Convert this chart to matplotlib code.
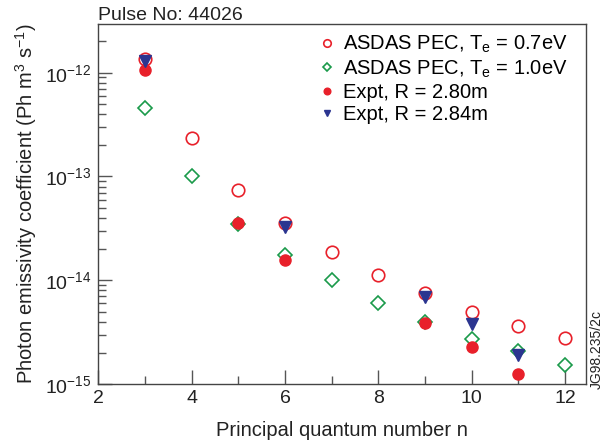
import numpy as np
import matplotlib
matplotlib.use("Agg")
import matplotlib.pyplot as plt
from matplotlib.ticker import FixedLocator, MultipleLocator, NullFormatter, LogFormatterMathtext

plt.rcParams['font.family'] = ['Liberation Sans', 'DejaVu Sans']

# ASDAS PEC model, Te = 0.7 eV and 1.0 eV
n_model = [3, 4, 5, 6, 7, 8, 9, 10, 11, 12]
pec_07 = [1.35e-12, 2.36e-13, 7.45e-14, 3.53e-14, 1.86e-14, 1.12e-14,
          7.5e-15, 5.0e-15, 3.66e-15, 2.78e-15]
pec_10 = [4.57e-13, 1.0e-13, 3.47e-14, 1.74e-14, 1.0e-14, 6.0e-15,
          4.0e-15, 2.73e-15, 2.1e-15, 1.54e-15]

# experiment
n_280 = [3, 5, 6, 9, 10, 11]
expt_280 = [1.07e-12, 3.59e-14, 1.58e-14, 3.9e-15, 2.3e-15, 1.26e-15]
n_284 = [3, 6, 9, 10, 11]
expt_284 = [1.29e-12, 3.26e-14, 6.9e-15, 3.83e-15, 1.9e-15]

y_major = [1e-15, 1e-14, 1e-13, 1e-12]

red = '#e8202a'
green = '#1a9a4a'
navy = '#2b3590'

fig = plt.figure(figsize=(6.1, 4.43), dpi=100)
ax = fig.add_axes([0.161, 0.133, 0.8, 0.813])

ax.plot(n_model, pec_07, 'o', mfc='none', mec=red, mew=1.2, ms=9,
        label=r'ASDAS PEC, T$_\mathregular{e}$ = 0.7eV')
ax.plot(n_model, pec_10, 'D', mfc='none', mec=green, mew=1.2, ms=7,
        label=r'ASDAS PEC, T$_\mathregular{e}$ = 1.0eV')
ax.plot(n_280, expt_280, 'o', color=red, ms=8, label='Expt, R = 2.80m')
ax.plot(n_284, expt_284, 'v', color=navy, ms=8, label='Expt, R = 2.84m')

ax.set_yscale('log')
ax.set_ylim(1e-15, 2.95e-12)
ax.set_xlim(2, 12.45)
ax.xaxis.set_major_locator(MultipleLocator(2))
ax.xaxis.set_minor_locator(MultipleLocator(1))
ax.yaxis.set_major_locator(FixedLocator(y_major))
ax.yaxis.set_major_formatter(LogFormatterMathtext())
minor = [m * d for d in [1e-15, 1e-14, 1e-13, 1e-12] for m in range(2, 10)
         if m * d < 2.95e-12]
ax.yaxis.set_minor_locator(FixedLocator(minor))
ax.yaxis.set_minor_formatter(NullFormatter())

ax.tick_params(which='both', direction='in', colors='#555555', labelcolor='#222222', labelsize=14)
ax.tick_params(which='major', length=10, width=1)
ax.tick_params(which='minor', length=6, width=1)
ax.tick_params(axis='y', which='major', pad=5)
ax.tick_params(axis='x', which='major', pad=4)
for s in ax.spines.values():
    s.set_color('#444444')
    s.set_linewidth(1)

ax.set_xlabel('Principal quantum number n', fontsize=14.5, color='#222222', labelpad=10)
ax.set_ylabel(r'Photon emissivity coefficient (Ph m$^\mathregular{3}$ s$^\mathregular{-1}$)',
              fontsize=14.5, color='#222222', labelpad=4)
ax.set_title('Pulse No: 44026', loc='left', fontsize=14, color='#222222', pad=2)

ax.legend(loc='upper left', bbox_to_anchor=(0.453, 0.972), frameon=False, fontsize=14.5,
          handletextpad=0.4, markerscale=0.6, borderpad=0, borderaxespad=0,
          labelspacing=0.15, handlelength=0.8)

fig.text(0.979, 0.21, 'JG98.235/2c', rotation=90, fontsize=10, ha='center',
         va='center', color='#222222')

fig.savefig('out.png', dpi=100)
